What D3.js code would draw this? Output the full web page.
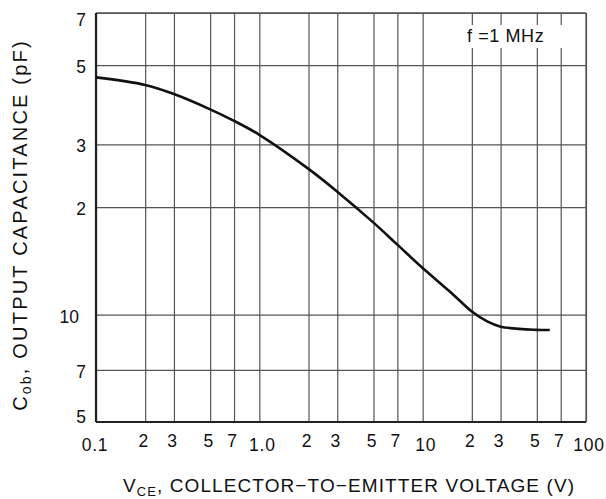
<!DOCTYPE html>
<html><head><meta charset="utf-8">
<script src="https://cdn.jsdelivr.net/npm/d3@7"></script>
<style>
body{margin:0;background:#fff;}
svg{display:block;font-family:"Liberation Sans",Arial,sans-serif;}
</style></head>
<body><svg id="c" width="606" height="499"></svg>
<script>
const xTicks = [0.1,0.2,0.3,0.5,0.7,1,2,3,5,7,10,20,30,50,70,100];
const xTickLabels = ["0.1","2","3","5","7","1.0","2","3","5","7","10","2","3","5","7","100"];
const yTicks = [0.5,0.7,1,2,3,5,7];
const yTickLabels = ["5","7","10","2","3","5","7"];
const vce = [0.1,0.2,0.3,0.5,0.7,1,2,3,5,7,10,15,20,25,30,50,60];
const cob = [4.62,4.40,4.15,3.76,3.49,3.19,2.56,2.21,1.81,1.57,1.35,1.15,1.02,0.955,0.925,0.906,0.905];

const L=96,R=586,T=13,B=422;
const svg=d3.select("#c");
const x=d3.scaleLog().domain([0.1,100]).range([L,R]);
const y=d3.scaleLog().domain([0.5,7]).range([B,T]);
const grid="#555";

// grid via axes
const gx=svg.append("g").attr("transform",`translate(0,${B})`)
  .call(d3.axisBottom(x).tickValues(xTicks).tickSize(-(B-T)).tickFormat(""));
const gy=svg.append("g").attr("transform",`translate(${L},0)`)
  .call(d3.axisLeft(y).tickValues(yTicks).tickSize(-(R-L)).tickFormat(""));
[gx,gy].forEach(g=>{g.select(".domain").remove();g.selectAll("line").attr("stroke",grid).attr("stroke-width",1.2);});

// frame
svg.append("line").attr("x1",L).attr("x2",R).attr("y1",T).attr("y2",T).attr("stroke",grid).attr("stroke-width",1.3);
svg.append("line").attr("x1",R).attr("x2",R).attr("y1",T).attr("y2",B).attr("stroke",grid).attr("stroke-width",1.3);
svg.append("line").attr("x1",L).attr("x2",R).attr("y1",B).attr("y2",B).attr("stroke","#222").attr("stroke-width",2.2);
svg.append("line").attr("x1",L).attr("x2",L).attr("y1",T).attr("y2",B).attr("stroke","#222").attr("stroke-width",2.2);

// annotation box
svg.append("rect").attr("x",463).attr("y",25).attr("width",102).attr("height",23).attr("fill","#fff");
svg.append("text").attr("x",467).attr("y",42).attr("font-size",18).attr("letter-spacing",0.6).attr("fill","#111").text("f =1 MHz");

// curve
svg.append("path").datum(vce.map((v,i)=>[x(v),y(cob[i])]))
  .attr("fill","none").attr("stroke","#111").attr("stroke-width",2.6)
  .attr("d",d3.line().curve(d3.curveCatmullRom.alpha(0.5)));

// x tick labels
const decades=new Set([0.1,1,10,100]);
svg.append("g").selectAll("text").data(xTicks).join("text")
  .attr("x",d=>x(d)+(decades.has(d)?(d===0.1?-1:3):-1.5))
  .attr("y",d=>decades.has(d)?451:447)
  .attr("text-anchor","middle").attr("font-size",17.5).attr("letter-spacing",0.8).attr("fill","#111")
  .text((d,i)=>xTickLabels[i]);

// y tick labels
svg.append("g").selectAll("text").data(yTicks).join("text")
  .attr("x",(d,i)=>yTickLabels[i].length>1?79:86)
  .attr("y",d=>Math.max(26,Math.min(423,y(d)+8)))
  .attr("text-anchor","end").attr("font-size",17.5).attr("fill","#111")
  .text((d,i)=>yTickLabels[i]);

// x title
const xt=svg.append("text").attr("x",349).attr("y",492).attr("text-anchor","middle").attr("font-size",19).attr("letter-spacing",1.1).attr("fill","#111");
xt.append("tspan").text("V");
xt.append("tspan").attr("font-size",13).attr("dy",4).text("CE");
xt.append("tspan").attr("dy",-4).text(", COLLECTOR\u2212TO\u2212EMITTER VOLTAGE (V)");

// y title
const yt=svg.append("text").attr("transform","translate(27,225) rotate(-90)").attr("text-anchor","middle").attr("font-size",20).attr("letter-spacing",2.2).attr("fill","#111");
yt.append("tspan").text("C");
yt.append("tspan").attr("font-size",14).attr("dy",4).text("ob");
yt.append("tspan").attr("dy",-4).text(", OUTPUT CAPACITANCE (pF)");
</script></body></html>
